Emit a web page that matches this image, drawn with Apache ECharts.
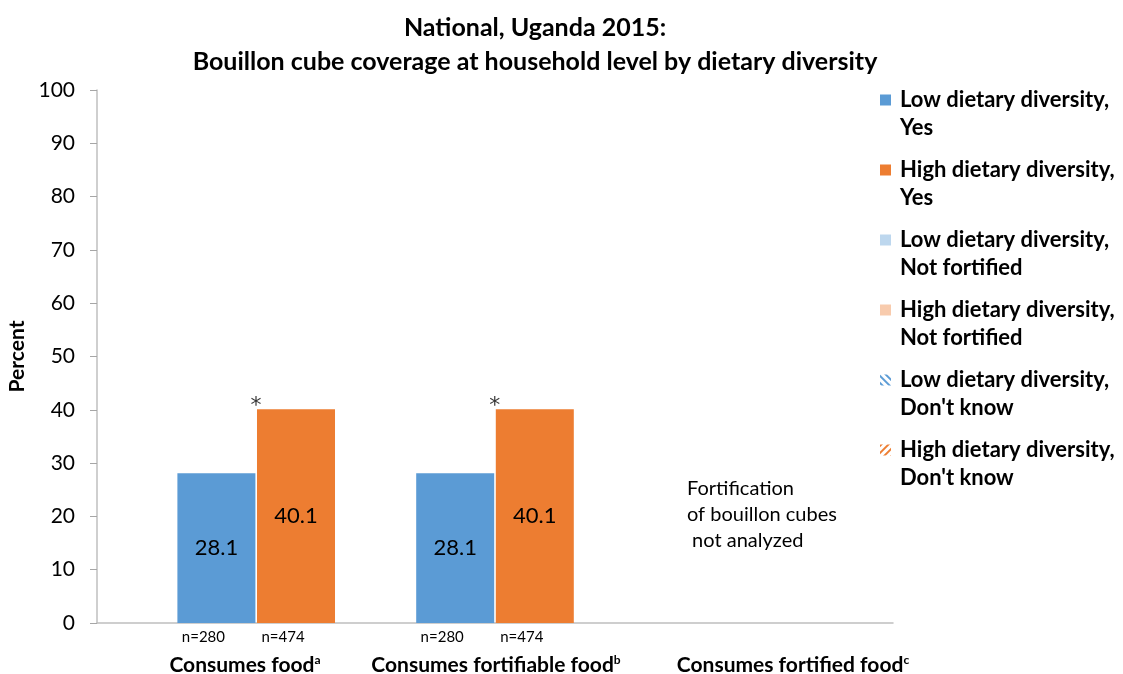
<!DOCTYPE html>
<html>
<head>
<meta charset="utf-8">
<script src="https://cdn.jsdelivr.net/npm/echarts@6/dist/echarts.min.js"></script>
<style>
  html, body { margin: 0; padding: 0; background: #fff; }
  #chart { width: 1123px; height: 674px; }
</style>
</head>
<body>
<div id="chart"></div>
<script>
// x slots: a gap, then low / high bar for each group
var slots = ['gap0', 'food_low', 'food_high', 'gap1', 'fable_low', 'fable_high', 'gap2', 'fied_low', 'fied_high', 'gap3'];
var nLabels = ['', 'n=280', 'n=474', '', 'n=280', 'n=474', '', '', '', ''];
var groupNames = ['Consumes food', 'Consumes fortifiable food', 'Consumes fortified food'];
var groupSup = ['a', 'b', 'c'];

// percent values
var lowYes = ['-', 28.1, '-', '-', 28.1, '-', '-', '-', '-', '-'];
var highYes = ['-', '-', 40.1, '-', '-', 40.1, '-', '-', '-', '-'];
var lowNotFortified = ['-', '-', '-', '-', '-', '-', '-', '-', '-', '-'];
var highNotFortified = ['-', '-', '-', '-', '-', '-', '-', '-', '-', '-'];
var lowDontKnow = ['-', '-', '-', '-', '-', '-', '-', '-', '-', '-'];
var highDontKnow = ['-', '-', '-', '-', '-', '-', '-', '-', '-', '-'];
// significance marks
var starred = ['-', '-', 40.1, '-', '-', 40.1, '-', '-', '-', '-'];

var yTicks = [0, 10, 20, 30, 40, 50, 60, 70, 80, 90, 100];

var FONT = 'Lato';
var chart = echarts.init(document.getElementById('chart'));

// square at top of a tall box so the icon sits on the first text line
var legendIcon = 'path://M0,0h11v11h-11z M15,39h0.01v0.01h-0.01z';

function barSeries(name, data, color, extra) {
  var s = {
    name: name,
    type: 'bar',
    stack: 'total',
    data: data,
    barCategoryGap: '2%',
    itemStyle: { color: color },
    emphasis: { disabled: true }
  };
  if (extra) {
    for (var k in extra) s[k] = extra[k];
  }
  return s;
}

var valueLabel = {
  show: true,
  position: 'inside',
  color: '#000',
  fontFamily: FONT,
  fontSize: 22
};

var option = {
  backgroundColor: '#fff',
  animation: false,
  title: {
    text: 'National, Uganda 2015:\nBouillon cube coverage at household level by dietary diversity',
    left: 530,
    textAlign: 'center',
    top: 6,
    textStyle: {
      fontFamily: FONT,
      fontWeight: 'bold',
      fontSize: 25,
      lineHeight: 34,
      color: '#000'
    }
  },
  legend: {
    orient: 'vertical',
    left: 880,
    top: 86,
    padding: 0,
    itemGap: 14,
    itemWidth: 15,
    itemHeight: 39,
    icon: legendIcon,
    textStyle: {
      fontFamily: FONT,
      fontWeight: 'bold',
      fontSize: 22,
      lineHeight: 28,
      color: '#000'
    },
    data: [
      'Low dietary diversity,\nYes',
      'High dietary diversity,\nYes',
      'Low dietary diversity,\nNot fortified',
      'High dietary diversity,\nNot fortified',
      'Low dietary diversity,\nDon\'t know',
      'High dietary diversity,\nDon\'t know'
    ]
  },
  grid: { left: 97, right: 230, top: 90, bottom: 51, outerBoundsMode: 'none' },
  xAxis: {
    type: 'category',
    data: slots,
    axisLine: { lineStyle: { color: '#BFBFBF', width: 1.5 } },
    axisTick: {
      inside: true,
      length: 6,
      lineStyle: { color: '#A6A6A6' },
      interval: function (i) { return i === 8 || i === 10; }
    },
    axisLabel: {
      interval: 0,
      margin: 7,
      padding: [0, 26, 0, 0],
      fontFamily: FONT,
      fontSize: 15,
      color: '#000',
      formatter: function (v, i) { return nLabels[i]; }
    }
  },
  yAxis: {
    type: 'value',
    min: 0,
    max: 100,
    interval: 10,
    name: 'Percent',
    nameLocation: 'middle',
    nameRotate: 90,
    nameGap: 68,
    nameTextStyle: {
      fontFamily: FONT,
      fontWeight: 'bold',
      fontSize: 21,
      color: '#000'
    },
    axisLine: { show: true, lineStyle: { color: '#BFBFBF', width: 1.5 } },
    axisTick: { show: true, length: 7, lineStyle: { color: '#A6A6A6' } },
    splitLine: { show: false },
    axisLabel: {
      margin: 22,
      fontFamily: FONT,
      fontSize: 21,
      color: '#000',
      formatter: function (v) { return yTicks.indexOf(v) >= 0 ? String(v) : ''; }
    }
  },
  series: [
    barSeries('Low dietary diversity,\nYes', lowYes, '#5B9BD5', { label: valueLabel }),
    barSeries('High dietary diversity,\nYes', highYes, '#ED7D31', { label: valueLabel }),
    barSeries('Low dietary diversity,\nNot fortified', lowNotFortified, '#BDD7EE'),
    barSeries('High dietary diversity,\nNot fortified', highNotFortified, '#F8CBAD'),
    barSeries('Low dietary diversity,\nDon\'t know', lowDontKnow, '#fff', {
      itemStyle: {
        color: '#fff',
        decal: { symbol: 'rect', symbolSize: 1, dashArrayX: [1, 0], dashArrayY: [2, 3], rotation: Math.PI / 4, color: '#5B9BD5' }
      }
    }),
    barSeries('High dietary diversity,\nDon\'t know', highDontKnow, '#fff', {
      itemStyle: {
        color: '#fff',
        decal: { symbol: 'rect', symbolSize: 1, dashArrayX: [1, 0], dashArrayY: [2, 3], rotation: -Math.PI / 4, color: '#ED7D31' }
      }
    }),
    {
      name: 'sig',
      type: 'scatter',
      data: starred,
      symbolSize: 0,
      silent: true,
      label: {
        show: true,
        position: 'top',
        distance: 0,
        offset: [-40, 8],
        formatter: '*',
        fontFamily: 'DejaVu Sans',
        fontSize: 22,
        color: '#000'
      }
    }
  ],
  graphic: []
};

// group labels under the axis, with superscripts
var groupX = [245, 496, 793];
groupNames.forEach(function (g, i) {
  option.graphic.push({
    type: 'text',
    x: groupX[i],
    y: 665,
    style: {
      text: '{m|' + g + '}{s|' + groupSup[i] + '}',
      align: 'center',
      verticalAlign: 'middle',
      rich: {
        m: { fontFamily: FONT, fontWeight: 'bold', fontSize: 21, color: '#000' },
        s: { fontFamily: FONT, fontWeight: 'bold', fontSize: 12, color: '#000', verticalAlign: 'top', padding: [0, 0, 8, 0] }
      }
    }
  });
});
option.graphic.push({
  type: 'text',
  x: 687,
  y: 476,
  style: {
    text: 'Fortification\nof bouillon cubes\n not analyzed',
    fontFamily: FONT,
    fontSize: 20,
    lineHeight: 26,
    fill: '#000'
  }
});

chart.setOption(option);
</script>
</body>
</html>
